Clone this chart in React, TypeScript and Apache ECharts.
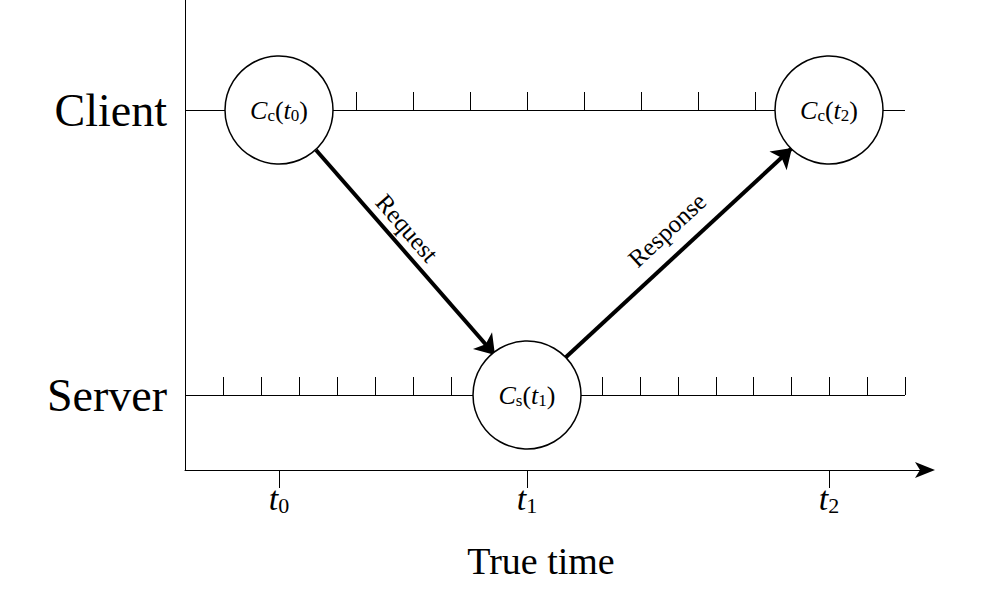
import {useEffect, useRef} from "react";
import * as echarts from "echarts";

// data units = pixels inside the grid (x: 0..740, y: 0..470)
const lanes = ["Server", "Client"];
const laneY = [75, 360];
const lineEnd = 720;
const clientTicks = [171, 228, 285, 342, 399, 456, 513, 570];
const serverTicks = [38, 76, 114, 152, 190, 228, 266, 303, 341, 379, 417, 455, 493, 531, 568, 606, 644, 682, 720];
const timeTicks = [94, 342, 644];
const timeLabels = ["0", "1", "2"];
const nodes = [
    {x: 94, y: 360, who: "c", t: "0"},
    {x: 342, y: 75, who: "s", t: "1"},
    {x: 644, y: 360, who: "c", t: "2"},
];
const arrows = [
    {name: "Request", from: [131, 320], to: [310, 115]},
    {name: "Response", from: [380, 112], to: [607, 322]},
];

const FONT = "Liberation Serif, serif";

export default function App() {
    const domRef = useRef<HTMLDivElement>(null);

    useEffect(() => {
        document.body.style.margin = "0";
        if (!domRef.current) return;
        const chart = echarts.init(domRef.current, null, {renderer: "svg"});
        const segs = (xs: number[], y: number) => xs.map(x => ({coords: [[x, y], [x, y + 18]]}));
        chart.setOption({
            animation: false,
            grid: {left: 185, top: 0, width: 740, height: 470},
            xAxis: {
                type: "value", min: 0, max: 740,
                splitLine: {show: false},
                axisLine: {lineStyle: {color: "#000", width: 1}, symbol: ["none", "arrow"], symbolSize: [12, 20], symbolOffset: [0, 10]},
                axisTick: {customValues: timeTicks, length: 18, lineStyle: {color: "#000"}},
                axisLabel: {
                    customValues: timeTicks,
                    formatter: (v: number) => `{a|t}{s|${timeLabels[timeTicks.indexOf(v)]}}`,
                    margin: 10,
                    rich: {
                        a: {fontFamily: FONT, fontStyle: "italic", fontSize: 34, color: "#000"},
                        s: {fontFamily: FONT, fontSize: 22, color: "#000", padding: [14, 0, 0, 0]},
                    },
                },
                name: "True time", nameLocation: "middle", nameGap: 72,
                nameTextStyle: {fontFamily: FONT, fontSize: 38, color: "#000", padding: [0, 0, 0, -28]},
            },
            yAxis: {
                type: "value", min: 0, max: 470,
                splitLine: {show: false},
                axisLine: {show: true, lineStyle: {color: "#000", width: 1}},
                axisTick: {show: false},
                axisLabel: {
                    customValues: laneY,
                    formatter: (v: number) => lanes[laneY.indexOf(v)],
                    fontFamily: FONT, fontSize: 46, color: "#000", margin: 18,
                },
            },
            series: [
                {
                    type: "lines", coordinateSystem: "cartesian2d", z: 1,
                    lineStyle: {color: "#000", width: 1, opacity: 1},
                    data: [
                        ...laneY.map(y => ({coords: [[0, y], [lineEnd, y]]})),
                        ...segs(clientTicks, laneY[1]),
                        ...segs(serverTicks, laneY[0]),
                    ],
                },
                {
                    type: "lines", coordinateSystem: "cartesian2d", z: 2,
                    symbol: ["none", "arrow"], symbolSize: 19,
                    lineStyle: {color: "#000", width: 4, opacity: 1},
                    data: arrows.map(a => ({coords: [a.from, a.to]})),
                },
                {
                    type: "scatter", z: 5, symbol: "circle", symbolSize: 108,
                    itemStyle: {color: "#fff", borderColor: "#000", borderWidth: 1.5, opacity: 1},
                    label: {
                        show: true, position: "inside",
                        formatter: (p: any) => `{a|C}{s|${p.data.who}}{b|(}{a|t}{s|${p.data.t}}{b|)}`,
                        rich: {
                            a: {fontFamily: FONT, fontStyle: "italic", fontSize: 26, color: "#000"},
                            b: {fontFamily: FONT, fontSize: 26, color: "#000"},
                            s: {fontFamily: FONT, fontSize: 17, color: "#000", padding: [11, 0, 0, 0]},
                        },
                    },
                    data: nodes.map(n => ({value: [n.x, n.y], who: n.who, t: n.t})),
                },
            ],
            graphic: [
                {type: "text", x: 407, y: 228, rotation: -0.854, style: {text: arrows[0].name, font: `25px Liberation Serif`, fill: "#000", align: "center", verticalAlign: "middle"}},
                {type: "text", x: 667, y: 230, rotation: 0.747, style: {text: arrows[1].name, font: `25px Liberation Serif`, fill: "#000", align: "center", verticalAlign: "middle"}},
            ],
        });
        return () => chart.dispose();
    }, []);

    return <div ref={domRef} style={{width: 996, height: 592}} />;
}
